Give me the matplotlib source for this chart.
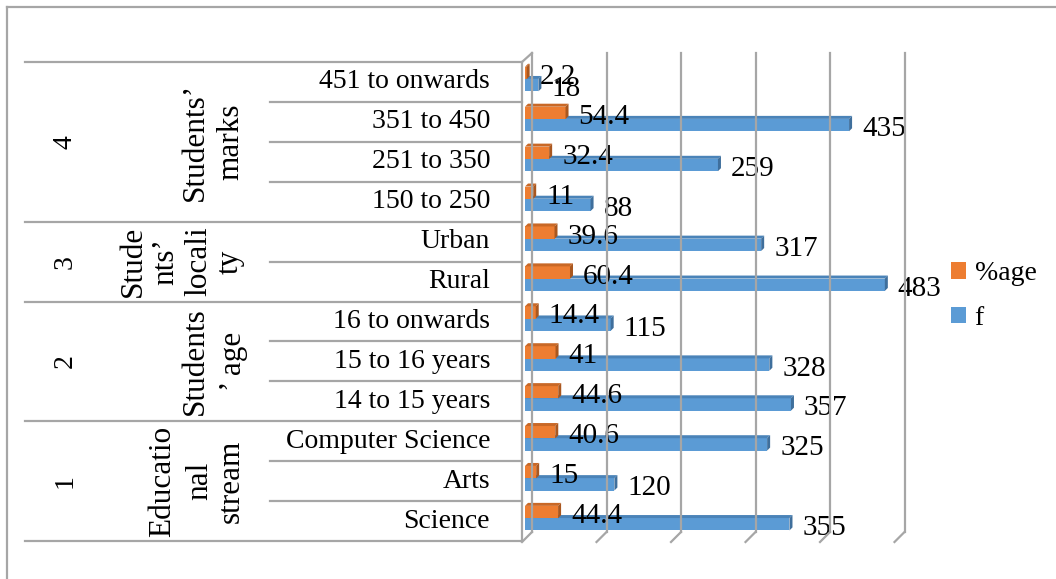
import numpy as np
import matplotlib.pyplot as plt
from matplotlib.patches import Polygon
from matplotlib.lines import Line2D
from matplotlib.transforms import blended_transform_factory

plt.rcParams['font.family'] = ['Liberation Serif', 'DejaVu Serif']

# rows from bottom to top
categories = ['Science', 'Arts', 'Computer Science',
              '14 to 15 years', '15 to 16 years', '16 to onwards',
              'Rural', 'Urban',
              '150 to 250', '251 to 350', '351 to 450', '451 to onwards']
f_values = [355, 120, 325, 357, 328, 115, 483, 317, 88, 259, 435, 18]
pct_values = [44.4, 15, 40.6, 44.6, 41, 14.4, 60.4, 39.6, 11, 32.4, 54.4, 2.2]
group_numbers = ['1', '2', '3', '4']
group_sizes = [3, 3, 2, 4]
group_names = [['Educatio', 'nal', 'stream'],
               ['Students', '\u2019 age'],
               ['Stude', 'nts\u2019', 'locali', 'ty'],
               ['Students\u2019', 'marks']]
grid_values = [0, 100, 200, 300, 400, 500]

W, H = 1056, 579
fig = plt.figure(figsize=(W / 100, H / 100), dpi=100)
x0_px, x1_px = 525, 897.5
y_top, y_bot = 62, 541
ax = fig.add_axes([x0_px / W, 1 - y_bot / H, (x1_px - x0_px) / W, (y_bot - y_top) / H])
ax.set_xlim(0, 500)
ax.set_ylim(-0.5, 11.5)
ax.axis('off')

grey = '#A6A6A6'
lw = 1.6
blue, blue_dk, blue_top = '#5B9BD5', '#3F6F9C', '#4A83B8'
orange, orange_dk = '#ED7D31', '#A9571F'


def fx(px):
    return px / W


def fy(py):
    return 1 - py / H


def data_px(v):
    return ax.transData.transform((v, 0))[0]


# outer frame (only top and left visible)
fig.add_artist(Line2D([fx(7), fx(7)], [fy(7), 0], color=grey, lw=lw))
fig.add_artist(Line2D([fx(7), 1], [fy(7), fy(7)], color=grey, lw=lw))

# 3D wall gridlines
for v in grid_values:
    px = data_px(v)
    fig.add_artist(Line2D([fx(px + 7), fx(px + 7)], [fy(53), fy(532)], color=grey, lw=lw))
    fig.add_artist(Line2D([fx(px + 7), fx(px - 3)], [fy(532), fy(542)], color=grey, lw=lw))
# front edge of the axis / table
fig.add_artist(Line2D([fx(522), fx(522)], [fy(y_top), fy(y_bot)], color=grey, lw=lw))
fig.add_artist(Line2D([fx(522), fx(532)], [fy(y_top), fy(53)], color=grey, lw=lw))

# table lines on the left
tr = blended_transform_factory(fig.transFigure, ax.transData)
bounds = np.cumsum(group_sizes)
for k in range(len(categories) + 1):
    yk = k - 0.5
    left = 25 if (k == 0 or k in bounds) else 270
    ax.plot([fx(left), fx(522)], [yk, yk], color=grey, lw=lw, transform=tr, clip_on=False)

# bars
y = np.arange(len(categories))
h = 0.31
bb = ax.barh(y - 0.08, f_values, height=h, color=blue, zorder=2)
ob = ax.barh(y + 0.225, pct_values, height=h, color=orange, zorder=4)

dx = 3 * 500 / (x1_px - x0_px)
dy = 3 * 12 / (y_bot - y_top)


def add_depth(bars, top_col, side_col, z):
    for r in bars:
        x, w, yb, hh = r.get_x(), r.get_width(), r.get_y(), r.get_height()
        yt = yb + hh
        ax.add_patch(Polygon([(x, yt), (x + w, yt), (x + w + dx, yt + dy), (x + dx, yt + dy)],
                             closed=True, color=top_col, lw=0, zorder=z))
        ax.add_patch(Polygon([(x + w, yb), (x + w + dx, yb + dy), (x + w + dx, yt + dy), (x + w, yt)],
                             closed=True, color=side_col, lw=0, zorder=z))


add_depth(bb, blue_top, blue_dk, 3)
add_depth(ob, '#C96826', orange_dk, 5)

# value labels
for bars, vals in ((bb, f_values), (ob, pct_values)):
    for r, v in zip(bars, vals):
        ax.annotate(f'{v:g}', (r.get_width(), r.get_y() + r.get_height() / 2),
                    xytext=(13, -4), textcoords='offset pixels',
                    ha='left', va='center', fontsize=21, zorder=6, annotation_clip=False)

# category labels
for yi, c in zip(y, categories):
    ax.text(fx(490), yi, c, transform=tr, ha='right', va='center', fontsize=20)

# group labels
name_x = [[163, 200, 231], [195, 233], [133, 166, 199, 230], [195, 231]]
start = 0
for num, size, lines, xs in zip(group_numbers, group_sizes, group_names, name_x):
    yc = start + (size - 1) / 2
    ax.text(fx(65), yc, num, transform=tr, rotation=90, ha='center', va='center', fontsize=20)
    for line, xp in zip(lines, xs):
        ax.text(fx(xp), yc, line, transform=tr, rotation=90, ha='center', va='center', fontsize=22.5)
    start += size

fig.legend([ob, bb], ['%age', 'f'], loc='center left', bbox_to_anchor=(fx(951), fy(296)),
           frameon=False, fontsize=20, handlelength=0.55, handleheight=0.55,
           handletextpad=0.3, labelspacing=0.7, borderpad=0, borderaxespad=0)

fig.savefig('out.png', dpi=100)
